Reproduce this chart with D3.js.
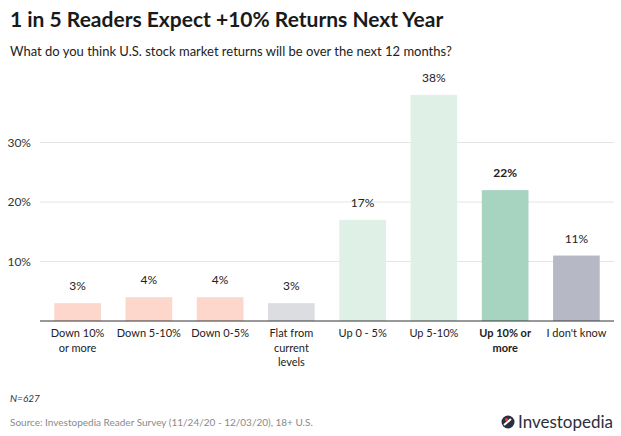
<!DOCTYPE html>
<html>
<head>
<meta charset="utf-8">
<script src="https://cdn.jsdelivr.net/npm/d3@7"></script>
<style>
  body { margin: 0; background: #fff; }
  text { font-family: "Source Sans Pro", Lato, "Noto Sans", sans-serif; }
</style>
</head>
<body>
<svg id="chart" width="621" height="436"></svg>
<script>
// data
var categories = ["Down 10%|or more", "Down 5-10%", "Down 0-5%", "Flat from|current|levels",
                  "Up 0 - 5%", "Up 5-10%", "Up 10% or|more", "I don't know"];
var values = [3, 4, 4, 3, 17, 38, 22, 11];
var barColors = ["#fdd6cc", "#fdd6cc", "#fdd6cc", "#dcdde0", "#dff0e7", "#dff0e7", "#a7d4c0", "#b7b8c5"];
var highlight = 6; // bold bar
var yTicks = [10, 20, 30];

var svg = d3.select("#chart");

var x = d3.scaleBand()
  .domain(d3.range(categories.length))
  .range([40, 614])
  .paddingInner(0.345)
  .paddingOuter(0.2);

var y = d3.scaleLinear()
  .domain([0, 10])
  .range([321, 261.5]);

// title
svg.append("text")
  .attr("x", 10).attr("y", 27)
  .style("font-size", "21px").style("font-weight", "bold").style("fill", "#1a1a1a")
  .text("1 in 5 Readers Expect +10% Returns Next Year");

svg.append("text")
  .attr("x", 10).attr("y", 56)
  .style("font-size", "13px").style("fill", "#222")
  .text("What do you think U.S. stock market returns will be over the next 12 months?");

// gridlines
var grid = svg.append("g");
grid.selectAll("line").data(yTicks).enter().append("line")
  .attr("x1", 40).attr("x2", 614)
  .attr("y1", function(d){ return y(d); })
  .attr("y2", function(d){ return y(d); })
  .style("stroke", "#e5e5e5").style("stroke-width", 1);

grid.selectAll("text").data(yTicks).enter().append("text")
  .attr("x", 31)
  .attr("y", function(d){ return y(d) + 4; })
  .attr("text-anchor", "end")
  .style("font-size", "12px").style("fill", "#333")
  .text(function(d){ return d + "%"; });

// bars
svg.append("g").selectAll("rect").data(values).enter().append("rect")
  .attr("x", function(d, i){ return x(i); })
  .attr("width", x.bandwidth())
  .attr("y", function(d){ return y(d); })
  .attr("height", function(d){ return y(0) - y(d); })
  .style("fill", function(d, i){ return barColors[i]; });

// value labels
svg.append("g").selectAll("text").data(values).enter().append("text")
  .attr("x", function(d, i){ return x(i) + x.bandwidth() / 2; })
  .attr("y", function(d){ return y(d) - 13; })
  .attr("text-anchor", "middle")
  .style("font-size", "12px").style("fill", "#222")
  .style("font-weight", function(d, i){ return i == highlight ? "bold" : "normal"; })
  .text(function(d){ return d + "%"; });

// baseline
svg.append("line")
  .attr("x1", 40).attr("x2", 614)
  .attr("y1", y(0)).attr("y2", y(0))
  .style("stroke", "#333").style("stroke-width", 1);

// category labels
var cats = svg.append("g").selectAll("text").data(categories).enter().append("text")
  .attr("text-anchor", "middle")
  .style("font-size", "11px").style("fill", "#222")
  .style("font-weight", function(d, i){ return i == highlight ? "bold" : "normal"; });
cats.each(function(d, i){
  var t = d3.select(this);
  d.split("|").forEach(function(line, k){
    t.append("tspan")
      .attr("x", x(i) + x.bandwidth() / 2)
      .attr("y", 337 + k * 14.7)
      .text(line);
  });
});

// footnotes
svg.append("text")
  .attr("x", 10).attr("y", 402)
  .style("font-size", "10px").style("font-style", "italic").style("fill", "#333")
  .text("N=627");

svg.append("text")
  .attr("x", 10).attr("y", 426)
  .style("font-size", "10px").style("fill", "#8a8a8a")
  .text("Source: Investopedia Reader Survey (11/24/20 - 12/03/20), 18+ U.S.");

// logo
var logo = svg.append("g").attr("transform", "translate(508,422)");
logo.append("circle").attr("r", 6.5).style("fill", "#2c2f3e");
logo.append("path").attr("d", "M-4,3 L3,-3").style("stroke", "#fff").style("stroke-width", 2);
logo.append("circle").attr("cx", -1.5).attr("cy", -2.5).attr("r", 1.6).style("fill", "#e8412c");
logo.append("text")
  .attr("x", 10).attr("y", 6)
  .style("font-size", "17px").style("fill", "#2c2f3e")
  .text("Investopedia");
</script>
</body>
</html>
